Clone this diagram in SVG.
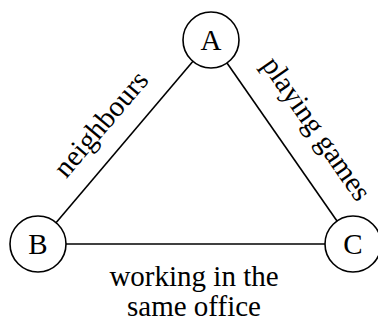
<svg xmlns="http://www.w3.org/2000/svg" width="378" height="324" viewBox="0 0 378 324">
<style>
.n{fill:#fff;stroke:#000;stroke-width:1.6}
.e{stroke:#000;stroke-width:1.6;fill:none}
text{font-family:"Liberation Serif","Times New Roman",serif;font-size:29px;fill:#000}
.c{text-anchor:middle}
</style>
<rect width="378" height="324" fill="#fff"/>
<g id="edges">
<line class="e" x1="211" y1="40" x2="38" y2="244"/>
<line class="e" x1="211" y1="40" x2="353" y2="244"/>
<line class="e" x1="38" y1="244" x2="353" y2="244"/>
</g>
<g id="labels">
<text class="c" transform="translate(108,130) rotate(-49.7)">neighbours</text>
<text class="c" transform="translate(309,134) rotate(55.2)">playing games</text>
<text class="c" x="194" y="286">working in the</text>
<text class="c" x="194" y="316">same office</text>
</g>
<g id="A"><circle class="n" cx="211" cy="40" r="28"/><text class="c" x="211" y="50">A</text></g>
<g id="B"><circle class="n" cx="38" cy="244" r="28"/><text class="c" x="38" y="254">B</text></g>
<g id="C"><circle class="n" cx="353" cy="244" r="28"/><text class="c" x="353" y="254">C</text></g>
</svg>
